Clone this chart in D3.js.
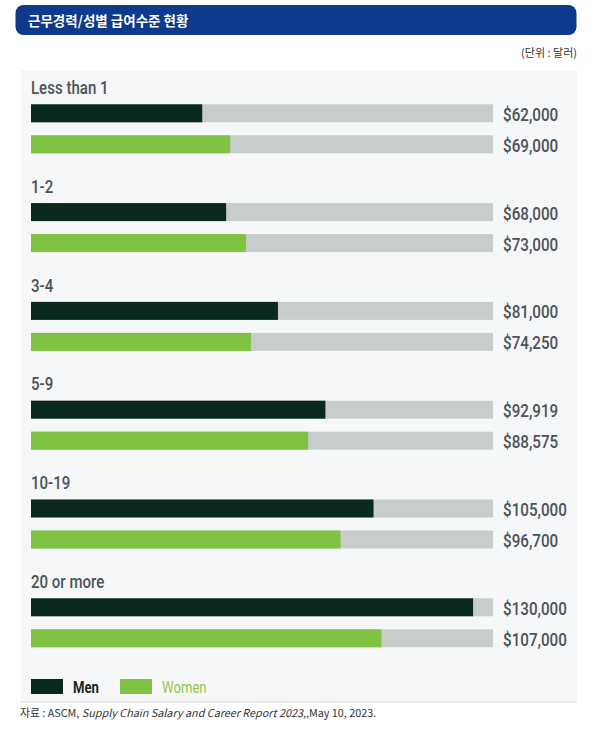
<!DOCTYPE html>
<html>
<head>
<meta charset="utf-8">
<script src="https://cdn.jsdelivr.net/npm/d3@7"></script>
<style>
  body { margin: 0; background: #ffffff; }
  .narrow { font-family: "Roboto", "Liberation Sans", sans-serif; font-weight: 500; }
  .kr { font-family: "Noto Sans CJK KR", "Noto Sans", sans-serif; }
</style>
</head>
<body>
<div id="wrapper"></div>
<script>
// data
const categories = ["Less than 1", "1-2", "3-4", "5-9", "10-19", "20 or more"];
const menValues = [62000, 68000, 81000, 92919, 105000, 130000];
const womenValues = [69000, 73000, 74250, 88575, 96700, 107000];
const seriesNames = ["Men", "Women"];
const valueLabels = [
  ["$62,000", "$69,000"],
  ["$68,000", "$73,000"],
  ["$81,000", "$74,250"],
  ["$92,919", "$88,575"],
  ["$105,000", "$96,700"],
  ["$130,000", "$107,000"]
];

function drawChart() {
  const dimensions = { width: 591, height: 736 };

  const colors = { Men: "#08291c", Women: "#80c342" };
  const trackColor = "#c9cccc";
  const textColor = "#4c5258";
  // the source uses a condensed face; squeeze Roboto horizontally
  const squeeze = 0.82;

  const rows = categories.map((c, i) => ({
    category: c,
    values: [
      { series: "Men", value: menValues[i], label: valueLabels[i][0] },
      { series: "Women", value: womenValues[i], label: valueLabels[i][1] }
    ]
  }));

  const svg = d3.select("#wrapper")
    .append("svg")
    .attr("width", dimensions.width)
    .attr("height", dimensions.height);

  // header
  svg.append("rect")
    .attr("x", 15.5).attr("y", 5)
    .attr("width", 561).attr("height", 30)
    .attr("rx", 8)
    .attr("fill", "#0e3a8b");
  svg.append("text")
    .attr("class", "kr")
    .attr("x", 28).attr("y", 25.5)
    .attr("fill", "#ffffff")
    .style("font-size", "13.5px")
    .style("font-weight", 700)
    .text("근무경력/성별 급여수준 현황");

  svg.append("text")
    .attr("class", "kr")
    .attr("x", 577).attr("y", 57)
    .attr("text-anchor", "end")
    .attr("fill", "#333333")
    .style("font-size", "11px")
    .text("(단위 : 달러)");

  // panel
  svg.append("rect")
    .attr("x", 20.5).attr("y", 70)
    .attr("width", 556.5).attr("height", 632)
    .attr("fill", "#f5f7f8");
  svg.append("line")
    .attr("x1", 20.5).attr("x2", 577)
    .attr("y1", 702).attr("y2", 702)
    .attr("stroke", "#d6d9db")
    .attr("stroke-width", 1);

  // scales (the source axis is truncated, bars start near $19k)
  const xScale = d3.scaleLinear()
    .domain([19000, 135000])
    .range([31, 493]);

  const yGroup = d3.scaleBand()
    .domain(categories)
    .range([75, 75 + 98.8 * categories.length])
    .paddingInner(0);

  const ySeries = d3.scaleBand()
    .domain(seriesNames)
    .range([29.3, 78.3])
    .paddingInner(0.42)
    .paddingOuter(0);

  const barHeight = ySeries.bandwidth();

  const groups = svg.append("g")
    .selectAll("g")
    .data(rows)
    .join("g")
    .attr("transform", d => `translate(0, ${yGroup(d.category)})`);

  groups.append("text")
    .attr("class", "narrow")
    .attr("transform", `translate(31, 19) scale(0.86, 1)`)
    .attr("fill", textColor)
    .style("font-size", "17.5px")
    .text(d => d.category);

  const bars = groups.selectAll("g.bar")
    .data(d => d.values)
    .join("g")
    .attr("class", "bar")
    .attr("transform", d => `translate(0, ${ySeries(d.series)})`);

  bars.append("rect")
    .attr("x", xScale.range()[0])
    .attr("width", xScale.range()[1] - xScale.range()[0])
    .attr("height", barHeight)
    .attr("fill", trackColor);

  bars.append("rect")
    .attr("x", xScale.range()[0])
    .attr("width", d => xScale(d.value) - xScale.range()[0])
    .attr("height", barHeight)
    .attr("fill", d => colors[d.series]);

  bars.append("text")
    .attr("class", "narrow")
    .attr("transform", `translate(503, ${barHeight - 1.5}) scale(${squeeze - 0.02}, 1)`)
    .attr("fill", textColor)
    .style("font-size", "19px")
    .text(d => d.label);

  // legend
  const legend = svg.append("g")
    .attr("transform", "translate(31, 679)");
  const legendItems = legend.selectAll("g")
    .data(seriesNames)
    .join("g")
    .attr("transform", (d, i) => `translate(${i * 89}, 0)`);
  legendItems.append("rect")
    .attr("width", 32).attr("height", 15)
    .attr("fill", d => colors[d]);
  legendItems.append("text")
    .attr("class", "narrow")
    .attr("transform", `translate(42, 14) scale(${squeeze}, 1)`)
    .attr("fill", d => d === "Men" ? "#1d2823" : "#8cc84b")
    .style("font-size", "16px")
    .style("font-weight", d => d === "Men" ? 700 : 400)
    .text(d => d);

  // source
  const source = svg.append("text")
    .attr("class", "kr")
    .attr("x", 20).attr("y", 717)
    .attr("fill", "#333333")
    .style("font-size", "10.8px");
  source.append("tspan").text("자료 :  ASCM, ");
  source.append("tspan").style("font-style", "italic").text("Supply Chain Salary and Career Report 2023");
  source.append("tspan").text(",,May 10, 2023.");
}

drawChart();
</script>
</body>
</html>
